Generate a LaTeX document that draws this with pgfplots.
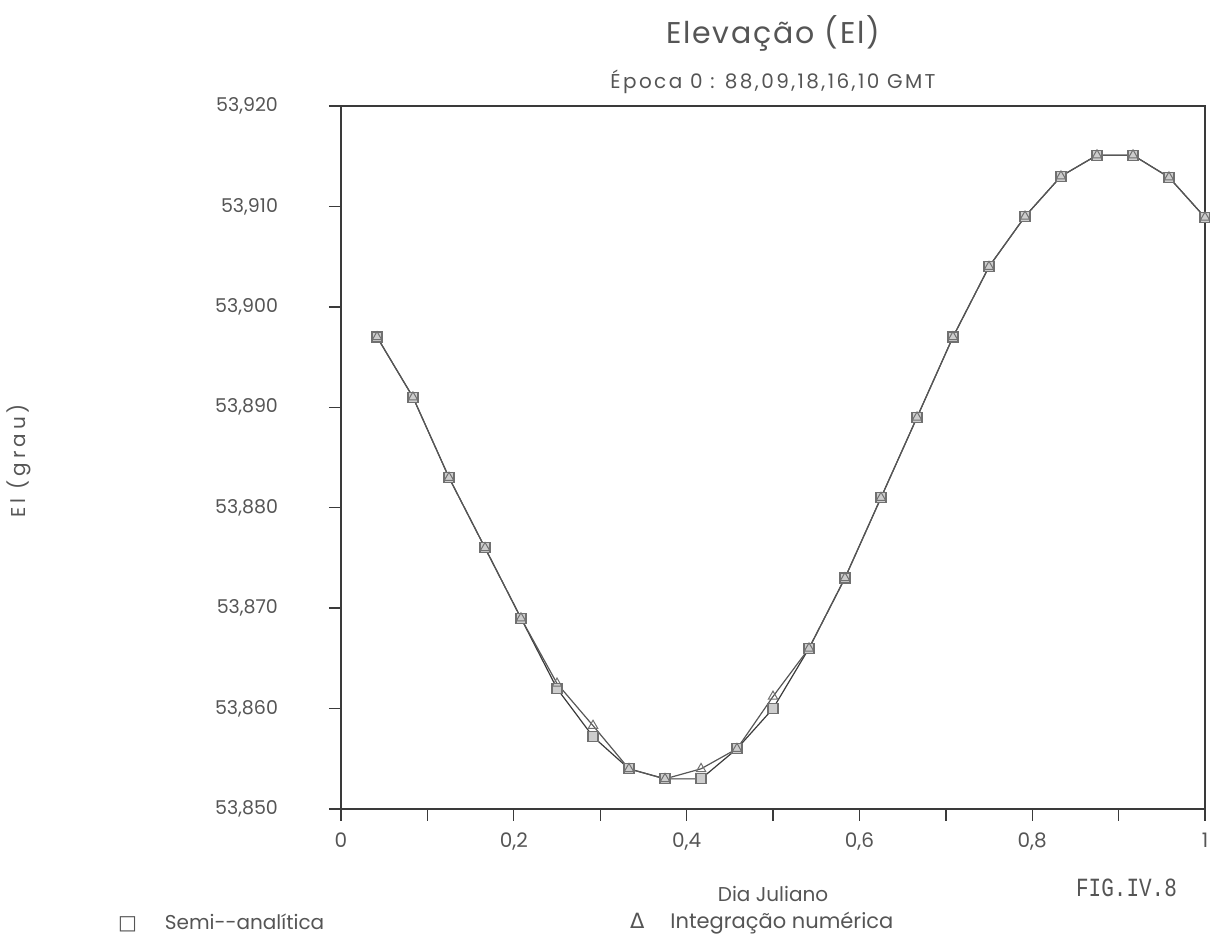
\documentclass[border=0pt]{standalone}
\usepackage{pgfplots}
\pgfplotsset{compat=1.18}
\usepackage{pgfplotstable}
\usepackage{fontspec}
\setmainfont{Poppins}
\newfontfamily\titlefont{Poppins}[LetterSpace=6]
\newfontfamily\subfont{Poppins}[LetterSpace=12]
\newfontfamily\ylabfont{Poppins}[LetterSpace=20]
\newfontfamily\monofont{Liberation Mono}
\newfontfamily\symfont{DejaVu Sans}
\definecolor{ink}{HTML}{555555}
\definecolor{lineink}{HTML}{3A3A3A}
\definecolor{markink}{HTML}{707070}

\pgfplotstableread{
x       sa        in
0.0417  53.8970   53.8970
0.0833  53.8910   53.8910
0.1250  53.8830   53.8830
0.1667  53.8760   53.8760
0.2083  53.8690   53.8690
0.2500  53.8620   53.8625
0.2917  53.8572   53.8583
0.3333  53.8540   53.8540
0.3750  53.8530   53.8530
0.4167  53.8530   53.8540
0.4583  53.8560   53.8560
0.5000  53.8600   53.8612
0.5417  53.8660   53.8660
0.5833  53.8730   53.8730
0.6250  53.8810   53.8810
0.6667  53.8890   53.8890
0.7083  53.8970   53.8970
0.7500  53.9040   53.9040
0.7917  53.9090   53.9090
0.8333  53.9130   53.9130
0.8750  53.9151   53.9151
0.9167  53.9151   53.9151
0.9583  53.9129   53.9129
1.0000  53.9089   53.9089
}\datatable

\begin{document}
\begin{tikzpicture}
\path[use as bounding box] (-170.5pt,-63pt) rectangle (434.5pt,404.5pt);
\begin{axis}[
  at={(0pt,0pt)}, anchor=south west,
  scale only axis, width=432pt, height=351.5pt,
  xmin=0, xmax=1, ymin=53.85, ymax=53.92,
  clip=false,
  axis line style={lineink, line width=0.7pt},
  tick style={lineink, line width=0.7pt},
  tick align=outside, tick pos=left,
  major tick length=6pt, minor tick length=6pt,
  xtick={0,0.2,0.4,0.6,0.8,1},
  xticklabels={0,{0,2},{0,4},{0,6},{0,8},1},
  minor xtick={0.1,0.3,0.5,0.7,0.9},
  ytick={53.85,53.86,53.87,53.88,53.89,53.90,53.91,53.92},
  scaled y ticks=false,
  /pgf/number format/fixed,
  /pgf/number format/fixed zerofill,
  /pgf/number format/precision=3,
  /pgf/number format/use comma,
  /pgf/number format/assume math mode=true,
  yticklabel style={font=\fontsize{9.5}{11}\selectfont, text=ink, xshift=-22pt},
  xticklabel style={font=\fontsize{10}{12}\selectfont, text=ink, yshift=-2.5pt},
]
\addplot[lineink, line width=0.6pt, mark=square*, mark size=2.5pt,
  mark options={draw=markink, fill=markink!35, line width=0.6pt, solid}] table[x=x, y=sa] {\datatable};
\addplot[lineink!85, line width=0.6pt, mark=triangle, mark size=2.7pt,
  mark options={markink, line width=0.5pt, solid}] table[x=x, y=in] {\datatable};
\end{axis}
% titles
\node[text=ink, font=\titlefont\fontsize{15}{17}\selectfont] at (216pt,388pt) {Elevação (El)};
\node[text=ink, font=\subfont\fontsize{10}{12}\selectfont] at (216pt,363.5pt) {Época 0 : 88,09,18,16,10 GMT};
% axis labels
\node[text=ink, font=\ylabfont\fontsize{10}{12}\selectfont, rotate=90] at (-161pt,174pt) {El (grau)};
\node[text=ink, font=\fontsize{10}{12}\selectfont] at (216pt,-42.5pt) {Dia Juliano};
\node[text=ink, anchor=east, font=\monofont\fontsize{10.5}{12}\selectfont, yscale=1.25] at (421.5pt,-39.5pt) {FIG.IV.8};
% legend
\node[text=ink, anchor=west, font=\fontsize{10}{12}\selectfont] at (-115pt,-57pt) {{\symfont □}\hspace{14pt}Semi-{}-analítica};
\node[text=ink, anchor=west, font=\fontsize{10.5}{12}\selectfont] at (141pt,-57pt) {{\symfont Δ}\hspace{13pt}Integração numérica};
\end{tikzpicture}
\end{document}
